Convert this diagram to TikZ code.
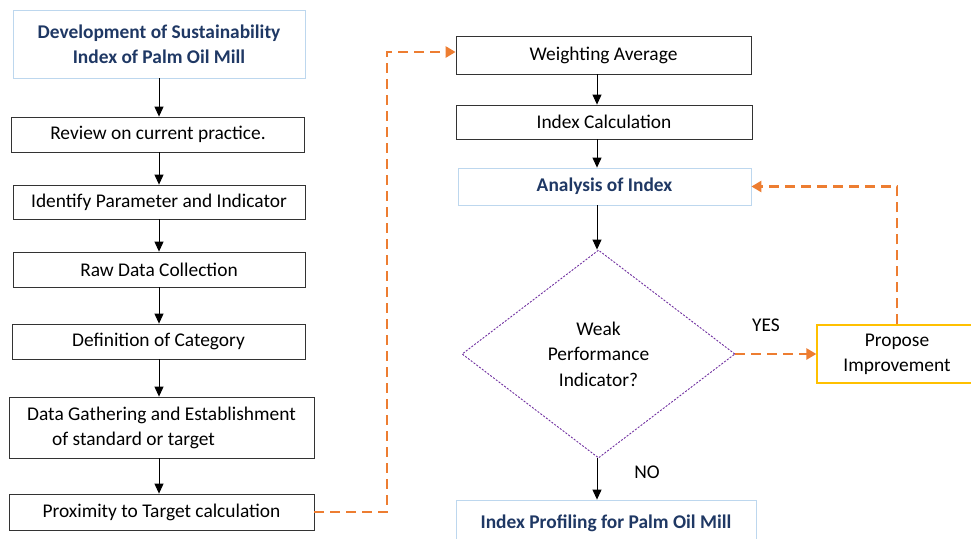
\documentclass[tikz,border=0pt]{standalone}
\usepackage{fontspec}
\setmainfont{Carlito}
\usepackage{xcolor}
\usetikzlibrary{arrows.meta,shapes.geometric}

\definecolor{navy}{HTML}{1F3864}
\definecolor{paleblue}{HTML}{BDD7EE}
\definecolor{flow}{HTML}{ED7D31}
\definecolor{violet}{HTML}{7030A0}
\definecolor{amber}{HTML}{FFC000}

\tikzset{
  stepbox/.style={draw=black!80, line width=0.8pt, inner sep=0pt, align=center,
    font=\fontsize{19.4}{25}\selectfont},
  headbox/.style={draw=paleblue, line width=0.8pt, inner sep=0pt, align=center,
    text=navy, font=\fontsize{19.4}{25}\selectfont\bfseries},
  ideabox/.style={draw=amber, line width=1.3pt, inner sep=0pt, align=center,
    font=\fontsize{19.4}{25}\selectfont},
  blackarrow/.style={-{Triangle[width=9pt,length=10pt]}, line width=0.9pt},
  orangeline/.style={draw=flow, line width=2.6pt, dash pattern=on 10pt off 6pt,
    -{Triangle[width=11pt,length=10pt]}}
}

\begin{document}
\begin{tikzpicture}[x=1pt,y=-1pt]
    \useasboundingbox (0,0) rectangle (971,538);
    % left column
    \node[headbox, minimum width=292pt, minimum height=68pt] (dev) at (159,44)
      {Development of Sustainability\\Index of Palm Oil Mill};
    \node[stepbox, minimum width=293pt, minimum height=35pt] (review) at (158,134.5) {Review on current practice.};
    \node[stepbox, minimum width=292pt, minimum height=34pt] (ident) at (159,202) {Identify Parameter and Indicator};
    \node[stepbox, minimum width=292pt, minimum height=35pt] (raw) at (159,269.5) {Raw Data Collection};
    \node[stepbox, minimum width=293pt, minimum height=35pt] (categ) at (158.5,341.5) {Definition of Category};
    \node[stepbox, minimum width=305pt, minimum height=61pt, align=left] (gather) at (161.5,427.5)
      {Data Gathering and Establishment\\\hspace*{25pt}of standard or target};
    \node[stepbox, minimum width=305pt, minimum height=36pt] (prox) at (161.5,512) {Proximity to Target calculation};
    % right column
    \node[stepbox, minimum width=295pt, minimum height=38pt] (weight) at (603.5,55) {Weighting Average};
    \node[stepbox, minimum width=296pt, minimum height=34pt] (calc) at (604,122) {Index Calculation};
    \node[headbox, minimum width=293pt, minimum height=37pt] (analysis) at (604.5,186.5) {Analysis of Index};
    \node[diamond, draw=violet, line width=0.9pt, dash pattern=on 2pt off 1.5pt, inner sep=0pt,
      minimum width=273pt, minimum height=208pt, align=center, font=\fontsize{19.4}{25.5}\selectfont]
      (weak) at (598.5,354) {Weak\\Performance\\Indicator?};
    \node[ideabox, minimum width=160pt, minimum height=58pt] (improve) at (897,354)
      {Propose\\Improvement};
    \node[headbox, minimum width=300pt, minimum height=46pt] (profile) at (606,523)
      {Index Profiling for Palm Oil Mill};
    \node[font=\fontsize{19.4}{22}\selectfont] (yes) at (766,325) {YES};
    \node[font=\fontsize{19.4}{22}\selectfont] (no) at (647,472) {NO};
    \coordinate (jog) at (387,0);
    \coordinate (spine) at (597,0);
    \coordinate (lane) at (159,0);

    \draw[blackarrow] (lane |- dev.south) -- (lane |- review.north);
    \draw[blackarrow] (lane |- review.south) -- (lane |- ident.north);
    \draw[blackarrow] (lane |- ident.south) -- (lane |- raw.north);
    \draw[blackarrow] (lane |- raw.south) -- (lane |- categ.north);
    \draw[blackarrow] (lane |- categ.south) -- (lane |- gather.north);
    \draw[blackarrow] (lane |- gather.south) -- (lane |- prox.north);
    \draw[blackarrow] (spine |- weight.south) -- (spine |- calc.north);
    \draw[blackarrow] (spine |- calc.south) -- (spine |- analysis.north);
    \draw[blackarrow] (spine |- analysis.south) -- (spine |- weak.north);
    \draw[blackarrow] (spine |- weak.south) -- (spine |- profile.north);
    \draw[orangeline] (prox.east) -| (jog |- 0,52) -- (weight.west |- 0,52);
    \draw[orangeline] (weak.east) -- (improve.west);
    \draw[orangeline] (improve.north) |- (analysis.east);
  \end{tikzpicture}
\end{document}
